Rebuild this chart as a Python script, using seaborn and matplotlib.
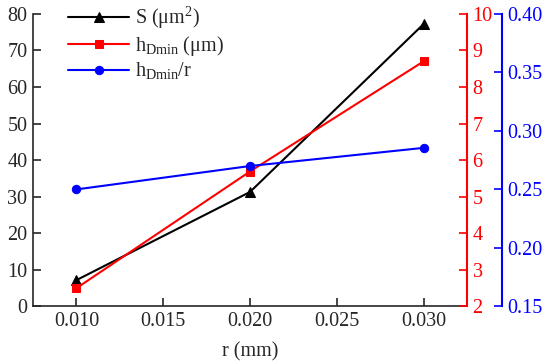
import matplotlib
matplotlib.use("Agg")
import matplotlib.pyplot as plt
import seaborn as sns
import pandas as pd

r = [0.010, 0.020, 0.030]
S = [7.2, 31.3, 77.2]
hD = [2.5, 5.69, 8.7]
hD_r = [0.250, 0.270, 0.2855]

sns.set_style("ticks")
plt.rcParams['font.family'] = ['Liberation Serif', 'DejaVu Serif']
plt.rcParams['mathtext.fontset'] = 'custom'
plt.rcParams['mathtext.rm'] = 'Liberation Serif'
plt.rcParams['font.size'] = 14.5

df = pd.DataFrame({"r": r, "S": S, "hD": hD, "hDr": hD_r})

fig = plt.figure(figsize=(5.5, 3.64), dpi=100)
ax = fig.add_axes([0.06, 0.158, 0.789, 0.804])
ax2 = ax.twinx()
ax3 = ax.twinx()
ax3.spines['right'].set_position(('axes', 1.081))

sns.lineplot(data=df, x="r", y="S", ax=ax, color="black", marker="^", markersize=6.5,
             markeredgecolor="black", linewidth=1.5, label="S (μm$^{\\mathregular{2}}$)", legend=False)
sns.lineplot(data=df, x="r", y="hD", ax=ax2, color="red", marker="s", markersize=5.5,
             markeredgecolor="red", linewidth=1.5, label="h$_{\\mathregular{Dmin}}$ (μm)", legend=False)
sns.lineplot(data=df, x="r", y="hDr", ax=ax3, color="blue", marker="o", markersize=6,
             markeredgecolor="blue", linewidth=1.5, label="h$_{\\mathregular{Dmin}}$/r", legend=False)

ax.set_xlim(0.0075, 0.0325)
ax.set_xticks([0.010, 0.015, 0.020, 0.025, 0.030])
ax.set_xticklabels(["0.010", "0.015", "0.020", "0.025", "0.030"])
ax.set_ylim(0, 80)
ax.set_yticks(range(0, 81, 10))
ax2.set_ylim(2, 10)
ax2.set_yticks(range(2, 11))
ax3.set_ylim(0.15, 0.40)
ax3.set_yticks([0.15, 0.20, 0.25, 0.30, 0.35, 0.40])
ax3.set_yticklabels(["0.15", "0.20", "0.25", "0.30", "0.35", "0.40"])

ax.set_xlabel("r (mm)", fontsize=14.5, labelpad=8)
ax.set_ylabel("")
ax2.set_ylabel("")
ax3.set_ylabel("")

for a in (ax, ax2, ax3):
    a.spines['top'].set_visible(False)
    a.tick_params(direction='in', length=6, width=1.2, labelsize=14.5, pad=4)
for a in (ax2, ax3):
    a.spines['left'].set_visible(False)
    a.spines['bottom'].set_visible(False)
ax.spines['right'].set_visible(False)
ax2.spines['right'].set_color('red')
ax2.spines['right'].set_linewidth(1.5)
ax2.tick_params(axis='y', colors='red')
ax3.spines['right'].set_color('blue')
ax3.spines['right'].set_linewidth(1.5)
ax3.tick_params(axis='y', colors='blue')
ax.spines['left'].set_linewidth(1.2)
ax.spines['bottom'].set_linewidth(1.2)

handles = []
labels = []
for a in (ax, ax2, ax3):
    h, l = a.get_legend_handles_labels()
    handles += h
    labels += l
ax.legend(handles, labels, loc='upper left', bbox_to_anchor=(0.04, 1.095), frameon=False,
          handlelength=3.0, fontsize=14.5, labelspacing=0.15, handletextpad=0.3)

fig.savefig("out.png", dpi=100)
